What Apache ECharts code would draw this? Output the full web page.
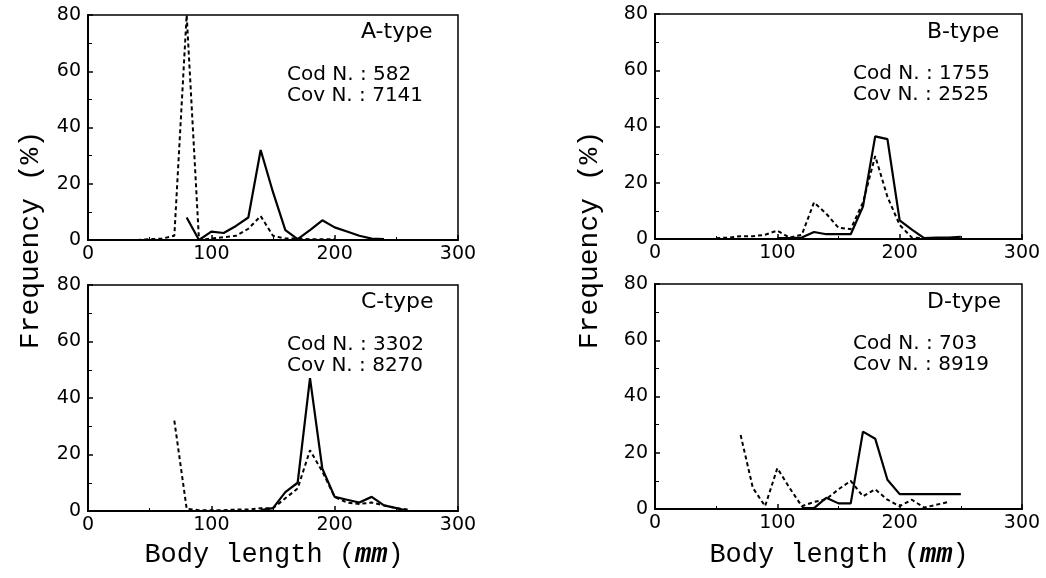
<!DOCTYPE html>
<html>
<head>
<meta charset="utf-8">
<script src="https://cdn.jsdelivr.net/npm/echarts@6/dist/echarts.min.js"></script>
<style>
html,body{margin:0;padding:0;background:#fff;}
#chart{width:1046px;height:578px;}
</style>
</head>
<body>
<div id="chart"></div>
<script>
// ---- data (body length in mm, frequency in %) ----
const xTickValues = [0, 100, 200, 300];
const yTickValues = [0, 20, 40, 60, 80];

const panelNames = ['A-type', 'B-type', 'C-type', 'D-type'];
const codCounts = [582, 1755, 3302, 703];
const covCounts = [7141, 2525, 8270, 8919];

// Panel A
const codA_len = [80, 90, 100, 110, 120, 130, 140, 150, 160, 170, 180, 190, 200, 210, 220, 230, 240];
const codA_val = [8, 0, 3, 2.5, 5, 8, 32, 17, 3.5, 0.3, 3.5, 7, 4.5, 3, 1.5, 0.5, 0.3];
const covA_len = [40, 50, 60, 70, 80, 90, 100, 110, 120, 130, 140, 150, 160, 170, 180, 190, 200];
const covA_val = [0, 0.3, 0.5, 1.5, 80, 0, 0.5, 1, 1.5, 4, 8.5, 1.5, 0.5, 0.5, 0.3, 0.3, 0.3];

// Panel B
const codB_len = [100, 110, 120, 130, 140, 150, 160, 170, 180, 190, 200, 210, 220, 230, 240, 250];
const codB_val = [0.3, 0.3, 0.5, 2.5, 1.7, 1.7, 1.7, 11.5, 36.5, 35.5, 6.6, 3.3, 0.3, 0.5, 0.5, 0.8];
const covB_len = [50, 60, 70, 80, 90, 100, 110, 120, 130, 140, 150, 160, 170, 180, 190, 200, 210, 220, 230, 240];
const covB_val = [0.3, 0.5, 1, 1, 1.5, 3, 0.5, 1.5, 13, 9, 4, 3.5, 13, 29.5, 15, 5, 0.5, 0.3, 0.3, 0.3];

// Panel C
const codC_len = [140, 150, 160, 170, 180, 190, 200, 210, 220, 230, 240, 250, 260];
const codC_val = [0.3, 1, 6.7, 10, 47, 15, 5, 4, 3, 5, 2, 1, 0];
const covC_len = [70, 80, 90, 100, 110, 120, 130, 140, 150, 160, 170, 180, 190, 200, 210, 220, 230, 240, 250, 260];
const covC_val = [32, 0.8, 0.3, 0.3, 0.3, 0.5, 0.5, 1, 1, 4.5, 8, 21.5, 14, 5, 3, 2.5, 3, 2, 1, 0.5];

// Panel D
const codD_len = [120, 130, 140, 150, 160, 170, 180, 190, 200, 210, 220, 230, 240, 250];
const codD_val = [0.3, 0.3, 4, 2, 2, 27.5, 25, 10.4, 5.3, 5.3, 5.3, 5.3, 5.3, 5.3];
const covD_len = [70, 80, 90, 100, 110, 120, 130, 140, 150, 160, 170, 180, 190, 200, 210, 220, 230, 240];
const covD_val = [26.3, 7.5, 1, 14.5, 7.5, 1, 2.5, 3.5, 7, 10, 4.5, 7, 3.3, 1, 3.3, 0.5, 1.5, 2.5];

const codSets = [[codA_len, codA_val], [codB_len, codB_val], [codC_len, codC_val], [codD_len, codD_val]];
const covSets = [[covA_len, covA_val], [covB_len, covB_val], [covC_len, covC_val], [covD_len, covD_val]];

// ---- layout ----
const grids = [
  {left: 88, top: 15, width: 370, height: 225},
  {left: 655, top: 14, width: 367, height: 225},
  {left: 88, top: 285, width: 370, height: 226},
  {left: 655, top: 284, width: 367, height: 225}
];
const txtFont = 'DejaVu Sans';
const monoFont = 'Liberation Mono';

const zip = (xs, ys) => xs.map((x, i) => [x, ys[i]]);

const option = {
  animation: false,
  backgroundColor: '#fff',
  grid: grids.map(g => Object.assign({show: true, borderColor: '#000', borderWidth: 1.5, backgroundColor: 'transparent'}, g)),
  xAxis: grids.map((g, i) => ({
    type: 'value', gridIndex: i,
    min: xTickValues[0], max: xTickValues[xTickValues.length - 1], interval: 100,
    axisLine: {show: true, onZero: false, lineStyle: {color: '#000', width: 2}},
    axisTick: {show: true, inside: true, length: 5, lineStyle: {color: '#000', width: 1.5}},
    minorTick: {show: true, splitNumber: 2, length: 3, lineStyle: {color: '#000', width: 1}},
    splitLine: {show: false},
    axisLabel: {color: '#000', fontSize: 19, fontFamily: txtFont, margin: 5}
  })),
  yAxis: grids.map((g, i) => ({
    type: 'value', gridIndex: i,
    min: yTickValues[0], max: yTickValues[yTickValues.length - 1], interval: 20,
    axisLine: {show: true, onZero: false, lineStyle: {color: '#000', width: 2}},
    axisTick: {show: true, inside: true, length: 5, lineStyle: {color: '#000', width: 1.5}},
    minorTick: {show: true, splitNumber: 2, length: 4, lineStyle: {color: '#000', width: 1}},
    splitLine: {show: false},
    axisLabel: {color: '#000', fontSize: 19, fontFamily: txtFont, margin: 7}
  })),
  series: [].concat(
    codSets.map((s, i) => ({
      type: 'line', xAxisIndex: i, yAxisIndex: i, name: 'Cod',
      data: zip(s[0], s[1]), showSymbol: false, symbol: 'none',
      lineStyle: {color: '#000', width: 2.2, type: 'solid'}
    })),
    covSets.map((s, i) => ({
      type: 'line', xAxisIndex: i, yAxisIndex: i, name: 'Cov',
      data: zip(s[0], s[1]), showSymbol: false, symbol: 'none',
      lineStyle: {color: '#000', width: 2, type: [4, 3]}
    }))
  ),
  graphic: []
};

// Panel annotations
const labelPos = [
  {tx: 361, ty: 32, cx: 287, cy1: 75, cy2: 96},
  {tx: 927, ty: 32, cx: 853, cy1: 74, cy2: 95},
  {tx: 361, ty: 302, cx: 287, cy1: 345, cy2: 366},
  {tx: 927, ty: 302, cx: 853, cy1: 344, cy2: 365}
];
labelPos.forEach((p, i) => {
  option.graphic.push({type: 'text', x: p.tx, y: p.ty, style: {text: panelNames[i], font: '22px "' + txtFont + '"', fill: '#000', textAlign: 'left', textVerticalAlign: 'middle'}});
  option.graphic.push({type: 'text', x: p.cx, y: p.cy1, style: {text: 'Cod N. : ' + codCounts[i], font: '20px "' + txtFont + '"', fill: '#000', textAlign: 'left', textVerticalAlign: 'middle'}});
  option.graphic.push({type: 'text', x: p.cx, y: p.cy2, style: {text: 'Cov N. : ' + covCounts[i], font: '20px "' + txtFont + '"', fill: '#000', textAlign: 'left', textVerticalAlign: 'middle'}});
});

// Axis titles
[31, 590].forEach(x => {
  option.graphic.push({type: 'text', x: x, y: 240, rotation: Math.PI / 2,
    style: {text: 'Frequency (%)', font: '28px "' + monoFont + '"', fill: '#000', textAlign: 'center', textVerticalAlign: 'middle'}});
});
[274, 839].forEach(x => {
  option.graphic.push({type: 'text', x: x, y: 555,
    style: {text: 'Body length ({i|mm})', fontFamily: monoFont, fontSize: 27, fill: '#000', align: 'center', verticalAlign: 'middle',
      rich: {i: {fontFamily: monoFont, fontSize: 27, fontStyle: 'italic', fontWeight: 'bold', fill: '#000'}}}});
});

const chart = echarts.init(document.getElementById('chart'), null, {renderer: 'canvas'});
chart.setOption(option);
</script>
</body>
</html>
